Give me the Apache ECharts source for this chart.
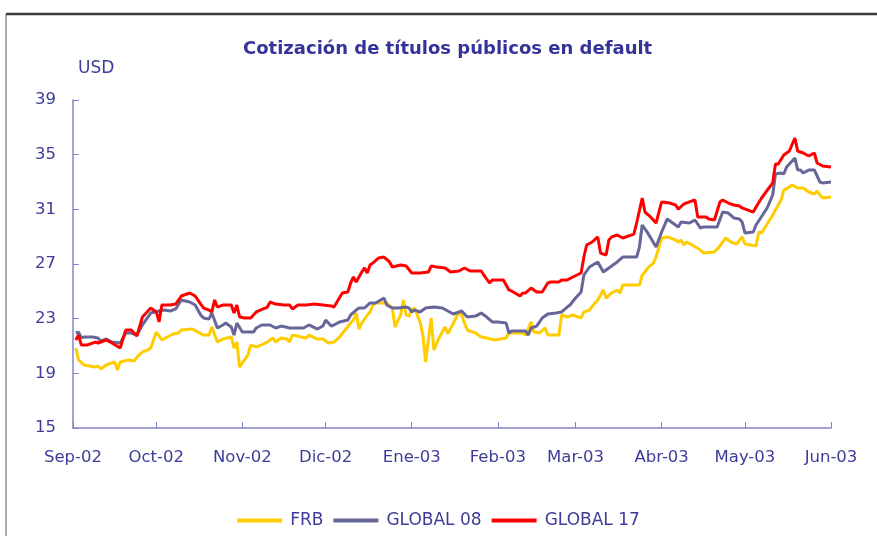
<!DOCTYPE html>
<html><head><meta charset="utf-8">
<script src="https://cdn.jsdelivr.net/npm/echarts@6/dist/echarts.min.js"></script>
<style>html,body{margin:0;padding:0;background:#fff}#c{width:877px;height:536px}</style>
</head><body><div id="c"></div>
<script>
const startDate = '2002-09-01';
const endDate = '2003-06-01';
const tickLabels = ['Sep-02','Oct-02','Nov-02','Dic-02','Ene-03','Feb-03','Mar-03','Abr-03','May-03','Jun-03'];
const seriesNames = ['FRB','GLOBAL 08','GLOBAL 17'];
const yTicks = [15,19,23,27,31,35,39];

const frbDates = ['2002-09-02','2002-09-03','2002-09-05','2002-09-07','2002-09-09','2002-09-10','2002-09-11','2002-09-13','2002-09-15','2002-09-16','2002-09-17','2002-09-18','2002-09-21','2002-09-23','2002-09-24','2002-09-26','2002-09-28','2002-09-29',
'2002-10-01','2002-10-03','2002-10-05','2002-10-07','2002-10-09','2002-10-10','2002-10-14','2002-10-16','2002-10-18','2002-10-20','2002-10-21','2002-10-23','2002-10-25','2002-10-28','2002-10-29','2002-10-30','2002-10-31',
'2002-11-03','2002-11-04','2002-11-06','2002-11-07','2002-11-10','2002-11-12','2002-11-13','2002-11-15','2002-11-17','2002-11-18','2002-11-19','2002-11-21','2002-11-22','2002-11-24','2002-11-25','2002-11-28','2002-11-30',
'2002-12-02','2002-12-04','2002-12-06','2002-12-08','2002-12-10','2002-12-11','2002-12-12','2002-12-13','2002-12-14','2002-12-16','2002-12-17','2002-12-18','2002-12-19','2002-12-23','2002-12-25','2002-12-26','2002-12-28','2002-12-29','2002-12-30','2002-12-31',
'2003-01-01','2003-01-02','2003-01-04','2003-01-05','2003-01-06','2003-01-08','2003-01-09','2003-01-11','2003-01-13','2003-01-14','2003-01-16','2003-01-18','2003-01-19','2003-01-20','2003-01-21','2003-01-24','2003-01-26','2003-01-28','2003-01-31',
'2003-02-02','2003-02-04','2003-02-05','2003-02-06','2003-02-10','2003-02-11','2003-02-13','2003-02-14','2003-02-16','2003-02-18','2003-02-19','2003-02-23','2003-02-24','2003-02-26','2003-02-28',
'2003-03-03','2003-03-04','2003-03-06','2003-03-08','2003-03-09','2003-03-11','2003-03-12','2003-03-14','2003-03-16','2003-03-17','2003-03-18','2003-03-24','2003-03-25','2003-03-26','2003-03-27','2003-03-29','2003-03-30',
'2003-04-01','2003-04-03','2003-04-06','2003-04-07','2003-04-08','2003-04-09','2003-04-10','2003-04-12','2003-04-15','2003-04-16','2003-04-20','2003-04-22','2003-04-24','2003-04-26','2003-04-28','2003-04-30',
'2003-05-01','2003-05-05','2003-05-06','2003-05-07','2003-05-11','2003-05-13','2003-05-14','2003-05-15','2003-05-17','2003-05-18','2003-05-20','2003-05-22','2003-05-24','2003-05-26','2003-05-27','2003-05-28','2003-05-29','2003-06-01'];
const frbValues = [20.85,19.98,19.61,19.54,19.46,19.54,19.32,19.61,19.76,19.83,19.25,19.83,19.98,19.90,20.19,20.56,20.71,20.85,
22.02,21.44,21.66,21.88,21.95,22.17,22.24,22.02,21.80,21.80,22.39,21.29,21.51,21.66,20.85,21.29,19.46,
20.34,21.07,20.93,21.00,21.29,21.59,21.29,21.59,21.51,21.29,21.80,21.73,21.66,21.59,21.80,21.51,21.51,
21.22,21.29,21.66,22.17,22.68,22.90,23.41,22.24,22.68,23.27,23.49,24.00,24.15,24.15,23.78,22.39,23.27,24.37,23.27,23.19,
23.63,23.78,22.76,21.80,19.83,23.05,20.71,21.66,22.39,21.90,22.68,23.49,23.27,22.68,22.17,21.95,21.66,21.59,21.44,
21.51,21.59,21.95,21.95,21.95,21.80,22.76,22.02,21.95,22.32,21.80,21.80,23.27,23.12,23.27,
23.05,23.49,23.63,24.15,24.37,25.10,24.51,24.88,25.10,24.88,25.46,25.46,26.19,26.41,26.71,27.07,27.51,
28.90,28.98,28.76,28.61,28.76,28.39,28.61,28.39,28.02,27.80,27.88,28.32,28.90,28.61,28.46,28.98,
28.46,28.32,29.34,29.27,30.59,31.32,31.68,32.41,32.63,32.78,32.56,32.56,32.27,32.12,32.34,32.05,31.83,31.90];

const g08Dates = ['2002-09-02','2002-09-03','2002-09-04','2002-09-05','2002-09-08','2002-09-10','2002-09-11','2002-09-13','2002-09-15','2002-09-18','2002-09-20','2002-09-22','2002-09-24','2002-09-26','2002-09-29',
'2002-10-02','2002-10-04','2002-10-06','2002-10-08','2002-10-10','2002-10-13','2002-10-15','2002-10-17','2002-10-18','2002-10-20','2002-10-21','2002-10-23','2002-10-25','2002-10-26','2002-10-28','2002-10-29','2002-10-30',
'2002-11-01','2002-11-03','2002-11-05','2002-11-06','2002-11-08','2002-11-11','2002-11-13','2002-11-15','2002-11-18','2002-11-21','2002-11-23','2002-11-25','2002-11-28','2002-11-30',
'2002-12-01','2002-12-03','2002-12-04','2002-12-06','2002-12-09','2002-12-10','2002-12-12','2002-12-13','2002-12-15','2002-12-17','2002-12-19','2002-12-22','2002-12-23','2002-12-25','2002-12-27','2002-12-30','2002-12-31',
'2003-01-01','2003-01-02','2003-01-04','2003-01-06','2003-01-09','2003-01-12','2003-01-14','2003-01-16','2003-01-19','2003-01-21','2003-01-24','2003-01-26','2003-01-28','2003-01-30',
'2003-02-01','2003-02-04','2003-02-05','2003-02-06','2003-02-11','2003-02-12','2003-02-13','2003-02-15','2003-02-17','2003-02-19','2003-02-22','2003-02-24','2003-02-26','2003-02-27',
'2003-03-01','2003-03-03','2003-03-04','2003-03-06','2003-03-09','2003-03-11','2003-03-13','2003-03-16','2003-03-18','2003-03-23','2003-03-24','2003-03-25','2003-03-27','2003-03-30',
'2003-04-01','2003-04-03','2003-04-05','2003-04-07','2003-04-08','2003-04-11','2003-04-13','2003-04-15','2003-04-16','2003-04-21','2003-04-23','2003-04-25','2003-04-27','2003-04-29','2003-04-30',
'2003-05-01','2003-05-04','2003-05-05','2003-05-09','2003-05-11','2003-05-12','2003-05-14','2003-05-15','2003-05-16','2003-05-19','2003-05-20','2003-05-21','2003-05-22','2003-05-24','2003-05-26','2003-05-28','2003-05-29','2003-06-01'];
const g08Values = [21.95,22.02,21.59,21.66,21.66,21.59,21.37,21.51,21.29,21.22,21.95,21.95,21.80,22.54,23.41,
23.56,23.63,23.56,23.71,24.37,24.22,24.00,23.27,23.05,22.98,23.41,22.32,22.54,22.68,22.39,21.80,22.68,
22.02,22.02,22.02,22.32,22.54,22.54,22.32,22.46,22.32,22.32,22.32,22.54,22.24,22.46,
22.90,22.46,22.54,22.76,22.90,23.27,23.63,23.78,23.78,24.15,24.15,24.51,24.00,23.78,23.78,23.85,23.78,
23.49,23.63,23.49,23.78,23.85,23.78,23.56,23.34,23.56,23.12,23.19,23.41,23.12,22.76,
22.76,22.68,21.95,22.10,22.10,21.80,22.32,22.46,23.05,23.34,23.41,23.49,23.85,24.00,
24.51,24.95,26.19,26.78,27.15,26.41,26.71,27.15,27.51,27.51,28.24,29.85,29.27,28.24,
29.34,30.29,30.00,29.71,30.07,30.00,30.22,29.63,29.71,29.71,30.80,30.73,30.37,30.29,30.07,
29.27,29.34,29.85,31.10,32.05,33.59,33.66,33.59,34.10,34.76,33.88,33.88,33.66,33.88,33.88,33.00,32.93,33.00];

const g17Dates = ['2002-09-02','2002-09-03','2002-09-04','2002-09-06','2002-09-09','2002-09-10','2002-09-13','2002-09-15','2002-09-18','2002-09-20','2002-09-22','2002-09-24','2002-09-26','2002-09-29',
'2002-10-01','2002-10-02','2002-10-03','2002-10-06','2002-10-08','2002-10-10','2002-10-13','2002-10-15','2002-10-17','2002-10-18','2002-10-20','2002-10-21','2002-10-22','2002-10-23','2002-10-25','2002-10-28','2002-10-29','2002-10-30','2002-10-31',
'2002-11-02','2002-11-04','2002-11-06','2002-11-10','2002-11-11','2002-11-13','2002-11-16','2002-11-18','2002-11-19','2002-11-21','2002-11-24','2002-11-27','2002-11-30',
'2002-12-03','2002-12-04','2002-12-07','2002-12-09','2002-12-10','2002-12-11','2002-12-12','2002-12-14','2002-12-15','2002-12-16','2002-12-17','2002-12-18','2002-12-20','2002-12-22','2002-12-24','2002-12-25','2002-12-28','2002-12-30',
'2003-01-01','2003-01-04','2003-01-07','2003-01-08','2003-01-10','2003-01-13','2003-01-15','2003-01-18','2003-01-20','2003-01-22','2003-01-26','2003-01-27','2003-01-29','2003-01-30',
'2003-02-03','2003-02-05','2003-02-06','2003-02-09','2003-02-10','2003-02-11','2003-02-13','2003-02-15','2003-02-17','2003-02-19','2003-02-20','2003-02-23','2003-02-24','2003-02-26','2003-02-28',
'2003-03-03','2003-03-04','2003-03-05','2003-03-07','2003-03-09','2003-03-10','2003-03-12','2003-03-13','2003-03-14','2003-03-16','2003-03-18','2003-03-22','2003-03-23','2003-03-25','2003-03-26','2003-03-28','2003-03-30',
'2003-04-01','2003-04-04','2003-04-06','2003-04-07','2003-04-09','2003-04-11','2003-04-13','2003-04-14','2003-04-17','2003-04-18','2003-04-20','2003-04-22','2003-04-23','2003-04-25','2003-04-27','2003-04-29','2003-04-30',
'2003-05-04','2003-05-05','2003-05-07','2003-05-11','2003-05-12','2003-05-13','2003-05-15','2003-05-17','2003-05-19','2003-05-20','2003-05-22','2003-05-24','2003-05-26','2003-05-27','2003-05-29','2003-06-01'];
const g17Values = [21.44,21.80,21.07,21.07,21.29,21.22,21.44,21.22,20.85,22.17,22.17,21.73,23.12,23.78,
23.49,22.76,24.00,24.00,24.07,24.66,24.88,24.66,24.07,23.78,23.63,23.49,24.37,23.85,24.00,24.00,23.41,24.00,23.12,
23.05,23.05,23.49,23.85,24.22,24.07,24.00,24.00,23.71,24.00,24.00,24.07,24.00,
23.93,23.85,24.88,24.95,25.61,26.05,25.68,26.41,26.71,26.34,26.93,27.07,27.44,27.51,27.15,26.78,26.93,26.85,
26.34,26.34,26.41,26.85,26.78,26.71,26.41,26.49,26.71,26.49,26.49,26.19,25.61,25.83,
25.83,25.10,25.02,24.66,24.88,24.88,25.24,24.95,24.95,25.61,25.68,25.68,25.83,25.83,26.05,
26.34,27.51,28.39,28.61,28.98,27.80,27.66,28.76,28.98,29.12,28.90,29.19,30.00,31.83,30.80,30.44,30.00,
31.54,31.46,31.32,31.02,31.39,31.54,31.68,30.44,30.44,30.29,30.22,31.54,31.68,31.46,31.32,31.24,31.10,
30.80,31.17,31.83,32.93,34.32,34.32,34.98,35.27,36.22,35.27,35.12,34.90,35.12,34.39,34.17,34.10];

// calendar-day categories for the x axis
const categories = [];
for (let t = Date.parse(startDate + 'T00:00:00Z'); t <= Date.parse(endDate + 'T00:00:00Z'); t += 86400000) {
  categories.push(new Date(t).toISOString().slice(0, 10));
}
const catIndex = new Map(categories.map((c, i) => [c, i]));
function toSeriesData(dates, vals) {
  const arr = new Array(categories.length).fill(null);
  dates.forEach((d, i) => { arr[catIndex.get(d)] = vals[i]; });
  return arr;
}
const isMonthStart = v => v.slice(8) === '01';
const monthLabel = v => {
  const y = +v.slice(0, 4), m = +v.slice(5, 7);
  return tickLabels[(y - 2002) * 12 + m - 9] || '';
};

const font = '"DejaVu Sans", Verdana, sans-serif';
const axisColor = '#8484c8';
const textColor = '#3d3d99';

const chart = echarts.init(document.getElementById('c'), null, { renderer: 'canvas' });
chart.setOption({
  animation: false,
  backgroundColor: '#ffffff',
  color: ['#FFCC00', '#666699', '#FF0000'],
  graphic: [
    { type: 'line', silent: true, shape: { x1: 6, y1: 14, x2: 877, y2: 14 }, style: { stroke: '#3a3a3a', lineWidth: 2.5 } },
    { type: 'line', silent: true, shape: { x1: 6, y1: 14, x2: 6, y2: 536 }, style: { stroke: '#555', lineWidth: 1 } }
  ],
  title: {
    text: 'Cotización de títulos públicos en default',
    left: 238, top: 35,
    textStyle: { fontFamily: font, fontSize: 18, fontWeight: 'bold', color: '#333399' }
  },
  legend: {
    data: seriesNames,
    top: 507, left: 'center',
    icon: 'rect', itemWidth: 45, itemHeight: 4, itemGap: 10,
    textStyle: { fontFamily: font, fontSize: 17, color: textColor, padding: [0, 0, 0, 3] }
  },
  grid: { left: 73, right: 46, top: 100, bottom: 108 },
  xAxis: {
    type: 'category',
    data: categories,
    boundaryGap: false,
    axisLine: { lineStyle: { color: axisColor, width: 1.5 } },
    axisTick: { inside: true, length: 6, interval: (i, v) => isMonthStart(v), lineStyle: { color: axisColor, width: 1 } },
    axisLabel: { interval: (i, v) => isMonthStart(v), formatter: monthLabel, margin: 21, fontFamily: font, fontSize: 16.5, color: textColor },
    splitLine: { show: false }
  },
  yAxis: {
    type: 'value',
    min: yTicks[0], max: yTicks[yTicks.length - 1], interval: yTicks[1] - yTicks[0],
    name: 'USD', nameLocation: 'end', nameGap: 23,
    nameTextStyle: { fontFamily: font, fontSize: 17, color: textColor, align: 'left', padding: [0, 0, 0, 5] },
    axisLine: { show: true, lineStyle: { color: axisColor, width: 1.5 } },
    axisTick: { show: true, inside: true, length: 6, lineStyle: { color: axisColor } },
    axisLabel: { margin: 17, fontFamily: font, fontSize: 16.5, color: textColor },
    splitLine: { show: false }
  },
  series: [
    { name: seriesNames[0], type: 'line', data: toSeriesData(frbDates, frbValues), connectNulls: true, symbol: 'none', lineStyle: { width: 3, color: '#FFCC00' }, itemStyle: { color: '#FFCC00' } },
    { name: seriesNames[1], type: 'line', data: toSeriesData(g08Dates, g08Values), connectNulls: true, symbol: 'none', lineStyle: { width: 3, color: '#666699' }, itemStyle: { color: '#666699' } },
    { name: seriesNames[2], type: 'line', data: toSeriesData(g17Dates, g17Values), connectNulls: true, symbol: 'none', lineStyle: { width: 3, color: '#FF0000' }, itemStyle: { color: '#FF0000' } }
  ]
});
</script></body></html>
